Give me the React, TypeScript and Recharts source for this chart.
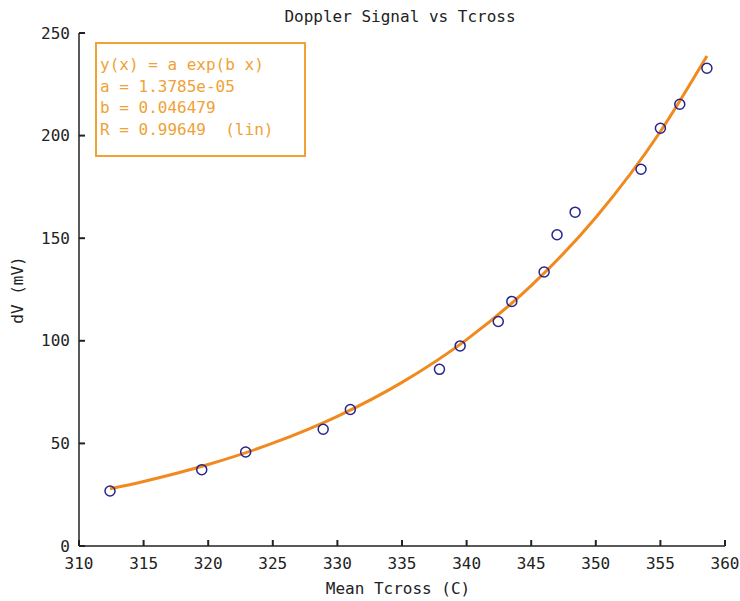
import React from 'react'
import { ComposedChart, Line, Scatter, XAxis, YAxis } from 'recharts'

// measured points
const tcross = [312.4, 319.5, 322.9, 328.9, 331.0, 337.9, 339.5, 342.45, 343.5, 346.0, 347.0, 348.4, 353.5, 355.0, 356.5, 358.6]
const dv = [26.8, 37.2, 45.8, 56.9, 66.5, 86.1, 97.5, 109.4, 119.2, 133.5, 151.7, 162.7, 183.6, 203.6, 215.3, 232.8]

// exponential fit y = a exp(b x), sampled along the measured range
const fitX = [312.4, 315, 320, 325, 330, 335, 340, 345, 350, 355, 358.6]
const fitY = [27.89, 31.47, 39.71, 50.1, 63.2, 79.73, 100.58, 126.9, 160.1, 201.98, 238.75]

const xTicks = [310, 315, 320, 325, 330, 335, 340, 345, 350, 355, 360]
const yTicks = [0, 50, 100, 150, 200, 250]

const fitLines = [
  'y(x) = a exp(b x)',
  'a = 1.3785e-05',
  'b = 0.046479',
  'R = 0.99649  (lin)',
]

const FONT = '"DejaVu Sans Mono", monospace'
const INK = '#222'
const ORANGE = '#f08a1e'
const LEGEND = '#f0a236'
const MARKER = '#25258c'

const measured = tcross.map((x, i) => ({ x, y: dv[i] }))
const fit = fitX.map((x, i) => ({ x, y: fitY[i] }))

const tickText = { fontFamily: FONT, fontSize: 16, fill: INK }
const axisStroke = { stroke: INK, strokeWidth: 1.5 }
const tickStroke = { stroke: INK, strokeWidth: 2 }

function Ring(props: any) {
  const { cx, cy } = props
  return <circle cx={cx} cy={cy} r={5} fill="none" stroke={MARKER} strokeWidth={1.5} />
}

export default function App() {
  return (
    <div style={{ position: 'absolute', left: 0, top: 0, width: 740, height: 601, background: '#fff' }}>
      <ComposedChart width={740} height={601} margin={{ top: 33, right: 15, bottom: 25, left: 0 }}>
        {/* negative tick sizes point the tick marks into the plot */}
        <XAxis
          type="number"
          dataKey="x"
          domain={[310, 360]}
          ticks={xTicks}
          allowDataOverflow
          height={30}
          tickSize={-6}
          tickMargin={18}
          tick={tickText}
          tickLine={tickStroke}
          axisLine={axisStroke}
        />
        <YAxis
          type="number"
          dataKey="y"
          domain={[0, 250]}
          ticks={yTicks}
          allowDataOverflow
          width={79}
          tickSize={-6}
          tickMargin={15}
          tick={tickText}
          tickLine={tickStroke}
          axisLine={axisStroke}
        />
        <Line
          data={fit}
          dataKey="y"
          type="monotone"
          stroke={ORANGE}
          strokeWidth={3}
          dot={false}
          activeDot={false}
          isAnimationActive={false}
        />
        <Scatter data={measured} dataKey="y" shape={<Ring />} isAnimationActive={false} />
      </ComposedChart>

      <svg
        width={740}
        height={601}
        style={{ position: 'absolute', left: 0, top: 0, pointerEvents: 'none' }}
        fontFamily={FONT}
        fontSize={16}
      >
        <text x={400} y={22} textAnchor="middle" fill={INK}>Doppler Signal vs Tcross</text>
        <text x={398} y={594} textAnchor="middle" fill={INK}>Mean Tcross (C)</text>
        <text x={23} y={290} textAnchor="middle" fill={INK} transform="rotate(-90 23 290)">dV (mV)</text>

        <rect x={96} y={43} width={209} height={113} fill="#fff" stroke={LEGEND} strokeWidth={2} />
        {fitLines.map((t, i) => (
          <text key={t} x={100} y={70 + i * 21.7} fill={LEGEND} style={{ whiteSpace: 'pre' }}>
            {t}
          </text>
        ))}
      </svg>
    </div>
  )
}
